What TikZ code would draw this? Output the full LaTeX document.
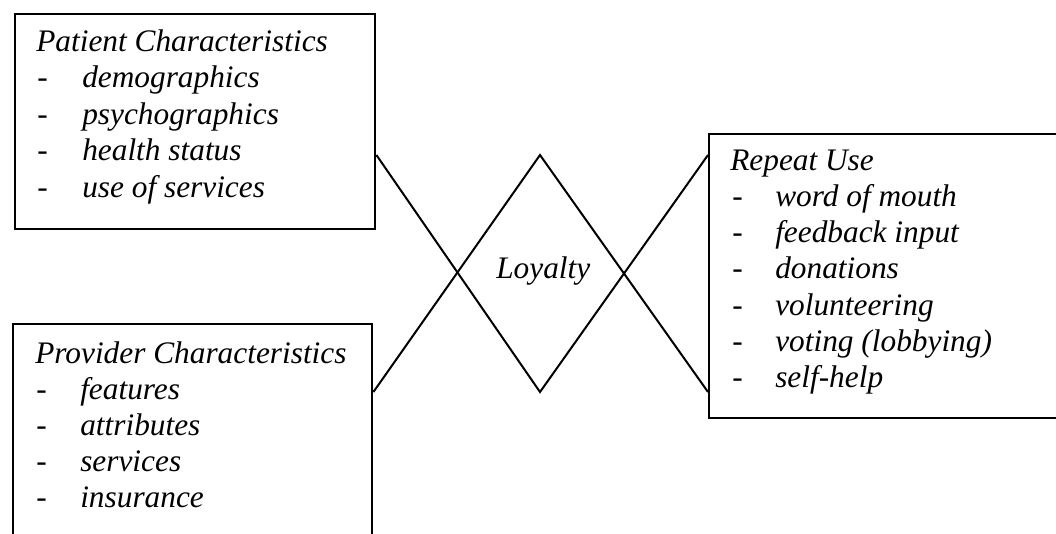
\documentclass[tikz,border=0pt]{standalone}
\usepackage{fontspec}
\setmainfont{Liberation Serif}
\begin{document}
\begin{tikzpicture}[x=0.75pt,y=-0.75pt,
  box/.style={draw, line width=1.8pt, inner sep=0pt, anchor=north west},
  txt/.style={font=\fontsize{23.5}{27}\selectfont\itshape, inner sep=0pt, anchor=base west},
  link/.style={line width=1.5pt, line join=miter}]
\useasboundingbox (0,0) rectangle (1056,533);
\clip (0,0) rectangle (1056,533);
% boxes
\node[box, minimum width=270pt, minimum height=161.25pt] (pc) at (14,13) {};
\node[box, minimum width=269.25pt, minimum height=180pt] (pv) at (12,323) {};
\node[box, minimum width=280pt, minimum height=213pt] (ru) at (708,133) {};
% diamond vertices
\coordinate (dtop) at (540,155);
\coordinate (dbot) at (540,392);
% connectors
\draw[link] (pc.east |- dtop) -- (dbot) -- (ru.west |- dtop);
\draw[link] (pv.east |- dbot) -- (dtop) -- (ru.west |- dbot);
% centre label
\node[txt] (loy) at (496,278) {Loyalty};
% patient characteristics
\node[txt] (pct) at (36,51) {Patient Characteristics};
\foreach \t [count=\i] in {demographics,psychographics,health status,use of services}{
  \node[txt] (pcd\i) at (37,{51+36.5*\i}) {-};
  \node[txt] (pci\i) at (82,{51+36.5*\i}) {\t};
}
% provider characteristics
\node[txt] (pvt) at (35,363) {Provider Characteristics};
\foreach \t [count=\i] in {features,attributes,services,insurance}{
  \node[txt] (pvd\i) at (36,{363+36.2*\i}) {-};
  \node[txt] (pvi\i) at (80,{363+36.2*\i}) {\t};
}
% repeat use
\node[txt] (rut) at (730,170) {Repeat Use};
\foreach \t [count=\i] in {word of mouth,feedback input,donations,volunteering,voting (lobbying),self-help}{
  \node[txt] (rud\i) at (732,{170+36.3*\i}) {-};
  \node[txt] (rui\i) at (775,{170+36.3*\i}) {\t};
}
\end{tikzpicture}
\end{document}
